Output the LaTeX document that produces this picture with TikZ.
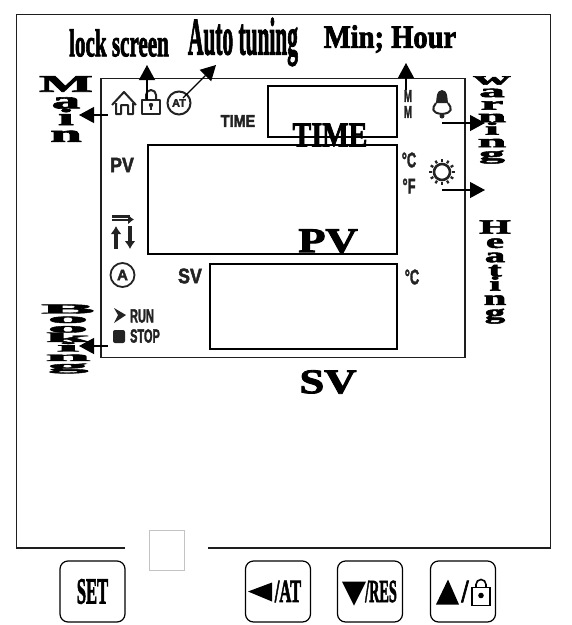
\documentclass[tikz,border=0pt]{standalone}
\usepackage{fontspec}
\setmainfont{Liberation Serif}
\setsansfont{Liberation Sans}
\newfontfamily\heavyserif[UprightFont=* Bold,FakeBold=2.5]{Liberation Serif}
\newfontfamily\heavysans[UprightFont=* Bold,FakeBold=2.5]{Liberation Sans}
\usepackage{xcolor}
\usetikzlibrary{arrows.meta,positioning,calc}
\definecolor{frameline}{RGB}{30,30,30}
\definecolor{lcdtext}{RGB}{35,35,35}
\definecolor{ghostline}{RGB}{195,195,195}
\tikzset{
  framebox/.style={draw=frameline, line width=1.4pt},
  lcdbox/.style={draw=black, line width=2pt},
  keybox/.style={
    draw=black,
    line width=1.2pt,
    rounded corners=8pt,
    minimum width=65pt,
    minimum height=61pt,
    inner sep=0pt,
    align=center
  },
  keytext/.style={font=\heavyserif\fontsize{23}{23}\selectfont, inner sep=0pt, transform shape},
  toplabel/.style={font=\heavyserif\fontsize{31}{31}\selectfont, inner sep=0pt, transform shape},
  stacklabel/.style={font=\heavyserif\fontsize{27}{19}\selectfont, align=center, inner sep=0pt, transform shape},
  lcdword/.style={font=\heavyserif\fontsize{33}{33}\selectfont, yscale=1.05, inner sep=0pt, transform shape},
  lcdlabel/.style={font=\heavysans\fontsize{17}{17}\selectfont, text=lcdtext, inner sep=0pt, xscale=.85, transform shape},
  callout/.style={-{Triangle[length=15pt,width=16pt]}, line width=1.2pt},
  icon/.style={draw=lcdtext, line width=2pt, line join=round}
}
\begin{document}
\begin{tikzpicture}[x=1pt,y=-1pt]
  \useasboundingbox (0,0) rectangle (572,625);
  % outer frame, open at the bottom
  \coordinate (gapleft) at (125,548);
  \coordinate (gapright) at (208,548);
  \draw[framebox] (gapleft) -- (16.5,548) -- (16.5,14.5) -- (550.5,14.5) -- (550.5,548) -- (gapright);
  \node[draw=ghostline, minimum width=35pt, minimum height=40pt, inner sep=0pt] (ghost) at (167,550) {};
  % display
  \node[draw=frameline, line width=1.1pt, minimum width=364pt, minimum height=279pt, inner sep=0pt] (lcd) at (283,218) {};
  \node[lcdbox, minimum width=129pt, minimum height=51pt, inner sep=0pt] (timebox) at (332.5,111.5) {};
  \node[lcdbox, minimum width=249pt, minimum height=109pt, inner sep=0pt] (pvbox) at (272.5,199.5) {};
  \node[lcdbox, minimum width=187pt, minimum height=85pt, inner sep=0pt] (svbox) at (303.5,306) {};

  \node[lcdword, xscale=.85] (timeword) at (330,135) {TIME};
  \node[lcdword, xscale=1.35] (pvword) at (328,241) {PV};
  \node[lcdword, xscale=1.35] (svword) at (328,382) {SV};

  % labels round the display
  \node[toplabel, xscale=.68, yscale=1.25] (lockword) at (119,43) {lock screen};
  \node[toplabel, xscale=.69, yscale=1.7] (autoword) at (243,42) {Auto tuning};
  \node[toplabel, xscale=.92, yscale=1.05] (minword) at (390,39) {Min; Hour};
  \node[stacklabel, xscale=2.1, yscale=.88] (mainword) at (66,109) {M\\a\\i\\n};
  \node[stacklabel, xscale=1.9, yscale=.66] (warnword) at (492,120) {w\\a\\r\\n\\i\\n\\g};
  \node[stacklabel, xscale=1.5, yscale=.75] (heatword) at (495,272) {H\\e\\a\\t\\i\\n\\g};
  \node[stacklabel, xscale=3, yscale=.5] (bookword) at (68,339) {B\\o\\o\\k\\i\\n\\g};

  % texts on the display
  \node[lcdlabel] (timelabel) at (238,121) {TIME};
  \node[lcdlabel, font=\heavysans\fontsize{21}{21}\selectfont] (pvlabel) at (122,165) {PV};
  \node[lcdlabel, font=\heavysans\fontsize{21}{21}\selectfont] (svlabel) at (190,276) {SV};
  \node[lcdlabel, font=\heavysans\fontsize{13}{13}\selectfont, xscale=.9, yscale=1.3] (minlabel) at (408,96) {M};
  \node[lcdlabel, font=\heavysans\fontsize{13}{13}\selectfont, xscale=.9, yscale=1.3] (hourlabel) at (408,112) {M};
  \node[lcdlabel, font=\heavysans\fontsize{21}{21}\selectfont, xscale=.72] (cellabel) at (409,160) {°C};
  \node[lcdlabel, font=\heavysans\fontsize{21}{21}\selectfont, xscale=.72] (fahlabel) at (409,186) {°F};
  \node[lcdlabel, font=\heavysans\fontsize{21}{21}\selectfont, xscale=.72] (svcellabel) at (412,277) {°C};
  \node[lcdlabel, font=\heavysans\fontsize{19}{19}\selectfont, xscale=.68] (runlabel) at (142,316) {RUN};
  \node[lcdlabel, font=\heavysans\fontsize{19}{19}\selectfont, xscale=.68] (stoplabel) at (145,336) {STOP};
  \node[circle, draw=lcdtext, line width=1.8pt, minimum size=24pt, inner sep=0pt, font=\heavysans\fontsize{15}{15}\selectfont, text=lcdtext] (autoicon) at (122.5,275) {A};
  \node[circle, draw=lcdtext, line width=2pt, minimum size=23pt, inner sep=0pt, font=\heavysans\fontsize{11}{11}\selectfont, text=lcdtext] (aticon) at (179,103) {AT};

  % home
  \draw[icon] (112,105) -- (124,92) -- (136,105) (116,103) -- (116,114) -- (121,114) -- (121,105) -- (128,105) -- (128,114) -- (133,114) -- (133,103);
  % lock
  \draw[icon] (142,100) rectangle (160,114);
  \draw[icon] (146,100) -- (146,95) arc[start angle=180, end angle=0, radius=5pt] -- (156,100);
  \fill[lcdtext] (151,105) circle (2.2pt);
  \draw[lcdtext, line width=1.3pt] (151,105) -- (151,110);
  % direction arrows
  \fill[lcdtext] (112,215) rectangle (130,217.5);
  \draw[-{Latex[length=6pt,width=10pt]}, line width=2pt, lcdtext] (112,219.5) -- (134,219.5);
  \draw[-{Latex[length=8pt,width=11pt]}, line width=4pt, lcdtext] (116,249) -- (116,226);
  \draw[-{Latex[length=8pt,width=11pt]}, line width=4pt, lcdtext] (130,226) -- (130,249);
  % run, stop
  \fill[lcdtext] (114,308) -- (126,315) -- (114,323) -- (118,315) -- cycle;
  \fill[lcdtext, rounded corners=2pt] (113,330) rectangle (125,343);
  % bell
  \fill[lcdtext] (442,90) .. controls (436,91) and (437,96) .. (436,103) -- (448,103) .. controls (447,96) and (448,91) .. (442,90) -- cycle;
  \draw[icon] (436,103) .. controls (432,108) and (431,113) .. (442,114) .. controls (453,113) and (452,108) .. (448,103);
  \fill[lcdtext] (442,116) circle (2.5pt);
  % sun
  \draw[icon, line width=2.6pt] (442,172) circle (8pt);
  \foreach \ang in {0,30,...,330}
    \draw[lcdtext, line width=2.2pt] ($(442,172)+(\ang:10pt)$) -- ($(442,172)+(\ang:13pt)$);

  % callouts
  \coordinate (homeend) at (108,115);
  \coordinate (lockend) at (147,100);
  \coordinate (atend) at (183,98);
  \coordinate (minend) at (406,90);
  \coordinate (bellend) at (442,123);
  \coordinate (sunend) at (442,190);
  \coordinate (stopend) at (108,346);
  \coordinate (mainend) at (79,115);
  \coordinate (lockhead) at (147,65);
  \coordinate (athead) at (216,65);
  \coordinate (minhead) at (406,63);
  \coordinate (warnhead) at (485,123);
  \coordinate (heathead) at (485,190);
  \coordinate (bookhead) at (79,346);
  \draw[callout] (homeend) -- (mainend);
  \draw[callout] (lockend) -- (lockhead);
  \draw[callout] (atend) -- (athead);
  \draw[callout] (minend) -- (minhead);
  \draw[callout] (bellend) -- (warnhead);
  \draw[callout] (sunend) -- (heathead);
  \draw[callout] (stopend) -- (bookhead);

  % keys
  \node[keybox] (setkey) at (92.5,591.5) {};
  \node[keybox] (leftkey) at (278,591.5) {};
  \node[keybox] (downkey) at (370,591.5) {};
  \node[keybox] (upkey) at (463,591.5) {};
  \node[keytext, xscale=.72, yscale=1.6] (settext) at (setkey) {SET};
  \node[keytext, xscale=.72, yscale=1.4] (attext) at ($(leftkey)+(10,0)$) {/AT};
  \node[keytext, xscale=.62, yscale=1.4] (restext) at ($(downkey)+(11,0)$) {/RES};
  \node[keytext, xscale=1.1, yscale=1.4] (slashtext) at ($(upkey)+(2,0)$) {/};
  \fill (leftkey.center) ++(-30,0) -- ++(24,-9) -- ++(0,19) -- cycle;
  \fill (downkey.center) ++(-28,-10) -- ++(24,0) -- ++(-12,24) -- cycle;
  \fill (upkey.center) ++(-27,13) -- ++(23,0) -- ++(-11,-25) -- cycle;
  \draw[line width=1.6pt] ($(upkey.center)+(9,-4)$) rectangle ($(upkey.center)+(27,14)$);
  \draw[line width=1.6pt] ($(upkey.center)+(13,-4)$) -- ++(0,-3) arc[start angle=180, end angle=0, radius=5pt] -- ++(0,3);
  \fill ($(upkey.center)+(18,4)$) circle (2.8pt);
\end{tikzpicture}
\end{document}
